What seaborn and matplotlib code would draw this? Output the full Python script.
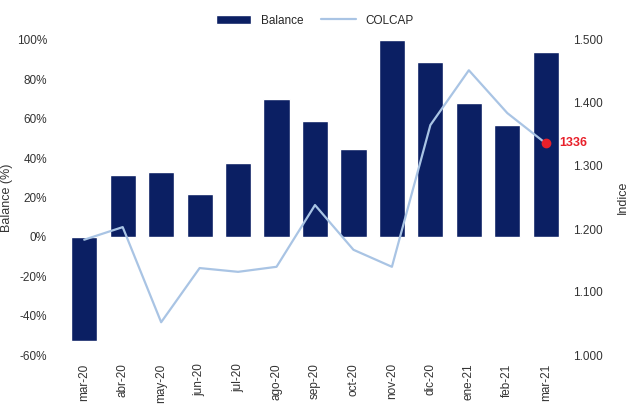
import pandas as pd
import seaborn as sns
import matplotlib.pyplot as plt
from matplotlib.ticker import FuncFormatter

months = ['mar-20', 'abr-20', 'may-20', 'jun-20', 'jul-20', 'ago-20', 'sep-20',
          'oct-20', 'nov-20', 'dic-20', 'ene-21', 'feb-21', 'mar-21']
balance = [-53, 31.5, 33, 22, 37.5, 70, 59, 44.5, 100, 89, 68, 57, 94]
colcap = [1.183, 1.203, 1.052, 1.138, 1.132, 1.140, 1.238, 1.167, 1.140,
          1.365, 1.452, 1.384, 1.336]
last_label = '1336'

df = pd.DataFrame({'month': months, 'balance': balance, 'colcap': colcap})
df['pos'] = range(len(df))

sns.set_style("white")
plt.rcParams['font.family'] = ['Liberation Sans', 'DejaVu Sans']

fig = plt.figure(figsize=(6.32, 4.15), dpi=100)
ax = fig.add_axes([65 / 632, 60 / 415, 500 / 632, 315 / 415])

sns.barplot(data=df, x='month', y='balance', color='#0b1f63', width=0.68,
            saturation=1, ax=ax, label='Balance')
ax.set_ylim(-60, 100)
ax.set_yticks(range(-60, 101, 20))
ax.yaxis.set_major_formatter(FuncFormatter(lambda v, p: f'{v:.0f}%'))
ax.set_xlabel('')
ax.set_ylabel('Balance (%)', fontsize=9, color='#333333', labelpad=3)
ax.tick_params(axis='x', rotation=90, labelsize=8.5, colors='#333333', length=0, pad=6)
ax.tick_params(axis='y', labelsize=8.5, colors='#333333', length=0, pad=13)

ax2 = ax.twinx()
sns.lineplot(data=df, x='pos', y='colcap', color='#a9c4e4', linewidth=1.6,
             ax=ax2, label='COLCAP', legend=False)
ax2.plot(df['pos'].iloc[-1], df['colcap'].iloc[-1], 'o', color='#e8202a',
         markersize=6, zorder=5)
ax2.annotate(last_label, (df['pos'].iloc[-1], df['colcap'].iloc[-1]),
             xytext=(10, 0), textcoords='offset points', va='center',
             color='#e8202a', fontsize=9, fontweight='bold')
ax2.set_ylim(1.0, 1.5)
ax2.set_yticks([1.0, 1.1, 1.2, 1.3, 1.4, 1.5])
ax2.yaxis.set_major_formatter(FuncFormatter(lambda v, p: f'{v:.3f}'))
ax2.set_ylabel('Indice', fontsize=9, color='#333333', labelpad=10)
ax2.tick_params(axis='y', labelsize=8.5, colors='#333333', length=0, pad=6)
ax.set_xlim(-0.5, len(months) - 0.5)
ax2.set_xlim(-0.5, len(months) - 0.5)

for a in (ax, ax2):
    for s in a.spines.values():
        s.set_visible(False)

h1, l1 = ax.get_legend_handles_labels()
h2, l2 = ax2.get_legend_handles_labels()
ax.legend(h1 + h2, l1 + l2, loc='lower center', bbox_to_anchor=(0.5, 1.02),
          ncol=2, frameon=False, fontsize=8.5, handlelength=3,
          columnspacing=1.5, borderaxespad=0.2)

plt.savefig('out.png', dpi=100)
